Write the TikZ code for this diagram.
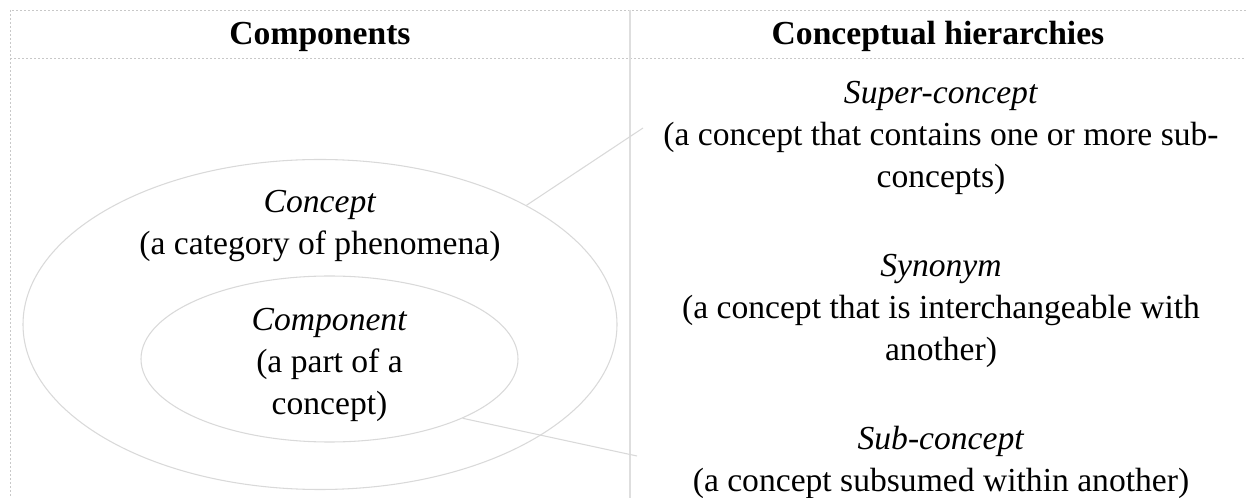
\documentclass[tikz,border=0pt]{standalone}
\usepackage{fontspec}
\setmainfont{Liberation Serif}
\usepackage{xcolor}
\usepackage{tikz}
\usetikzlibrary{calc,positioning,shapes.geometric}

\definecolor{ringgray}{HTML}{D9D9D9}
\definecolor{rulegray}{HTML}{C8C8C8}
\definecolor{divgray}{HTML}{DEDEDE}

\begin{document}
\begin{tikzpicture}[x=0.75pt,y=-0.75pt,node distance=43pt,
  txt/.style={align=center,inner sep=0pt,font=\fontsize{25.2}{31.5}\selectfont},
  head/.style={txt,font=\fontsize{25.2}{31.5}\selectfont\bfseries,anchor=base},
  ring/.style={draw=ringgray,ellipse,line width=0.8pt,inner sep=0pt,minimum width=#1},
  dashrule/.style={draw=rulegray,line width=0.7pt,dash pattern=on 1.5pt off 1.5pt},
  link/.style={draw=ringgray,line width=0.8pt}]
  \useasboundingbox (0,0) rectangle (1246,498);
  % table frame
  \draw[dashrule] (1246,10) -- (10,10) -- (10,498);
  \draw[dashrule] (10,58) -- (1246,58);
  \draw[draw=divgray,line width=0.8pt] (630,10) -- (630,498);
  \node[head] (hcomp) at (320,45) {Components};
  \node[head] (hhier) at (938,45) {Conceptual hierarchies};
  % left column: nested ellipses
  \node[ring=445.5pt,minimum height=247.5pt] (outer) at (320,324.5) {};
  \node[ring=282.75pt,minimum height=124.5pt] (inner) at (329.5,359) {};
  \node[txt] (concept) at (320,226) {\textit{Concept}\\(a category of phenomena)};
  \node[txt] (component) at (329.5,365) {\textit{Component}\\(a part of a\\concept)};
  % right column
  \node[txt] (super) at (941,138) {\textit{Super-concept}\\(a concept that contains one or more sub-\\concepts)};
  \node[txt,below=44.5pt of super] (syn) {\textit{Synonym}\\(a concept that is interchangeable with\\another)};
  \node[txt,below=of syn] (sub) {\textit{Sub-concept}\\(a concept subsumed within another)};
  \coordinate (supertip) at (643,128);
  \coordinate (subtip) at (637,456);
  \draw[link] (outer.30) -- (supertip);
  \draw[link] (inner.-24) -- (subtip);
\end{tikzpicture}
\end{document}
